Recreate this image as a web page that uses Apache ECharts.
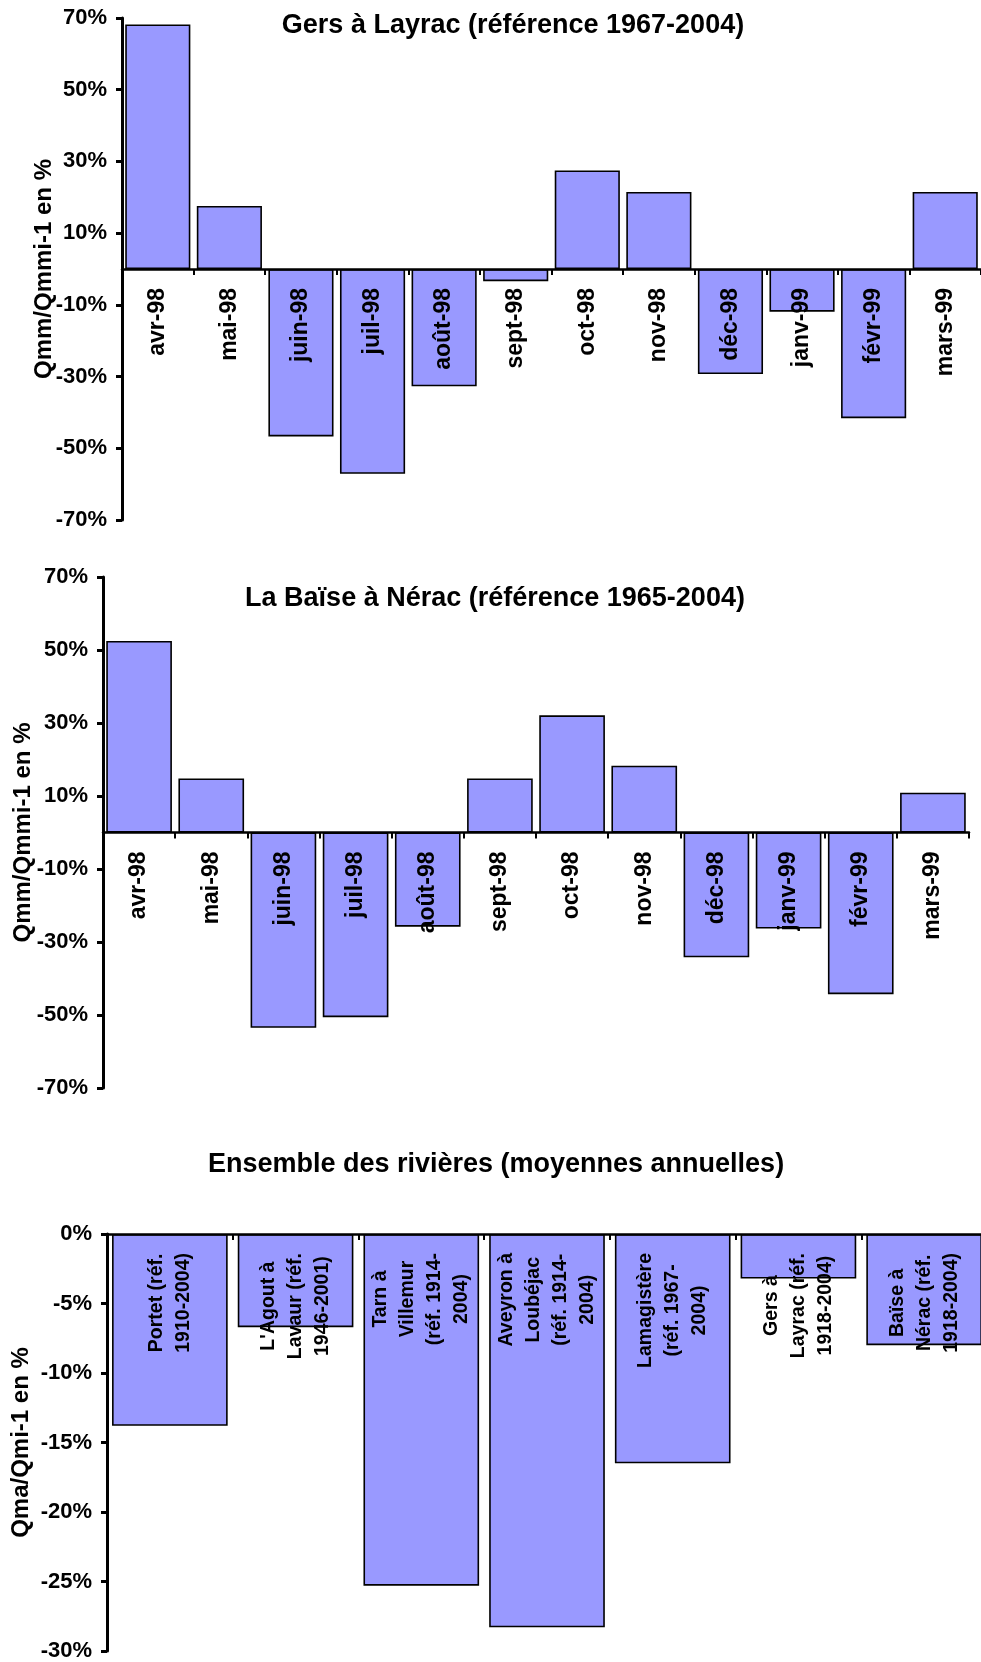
<!DOCTYPE html>
<html>
<head>
<meta charset="utf-8">
<script src="https://cdn.jsdelivr.net/npm/echarts@6/dist/echarts.min.js"></script>
<style>
html,body{margin:0;padding:0;background:#fff;}
#c{width:981px;height:1662px;}
</style>
</head>
<body>
<div id="c"></div>
<script>
// ---- data ----
const months = ['avr-98','mai-98','juin-98','juil-98','août-98','sept-98','oct-98','nov-98','déc-98','janv-99','févr-99','mars-99'];
const gersValues = [68.2, 17.6, -46.7, -57.1, -32.7, -3.4, 27.5, 21.5, -29.3, -11.9, -41.6, 21.5];
const baiseValues = [52.5, 14.8, -53.5, -50.6, -25.8, 14.8, 32.1, 18.3, -34.2, -26.3, -44.3, 10.9];
const rivers = [
  'Portet (réf.\n1910-2004)',
  "L'Agout à\nLavaur (réf.\n1946-2001)",
  'Tarn à\nVillemur\n(réf. 1914-\n2004)',
  'Aveyron à\nLoubéjac\n(réf. 1914-\n2004)',
  'Lamagistère\n(réf. 1967-\n2004)',
  'Gers à\nLayrac (réf.\n1918-2004)',
  'Baïse à\nNérac (réf.\n1918-2004)'
];
const riverValues = [-13.8, -6.7, -25.3, -28.3, -16.5, -3.2, -8.0];
const titles = [
  'Gers à Layrac (référence 1967-2004)',
  'La Baïse à Nérac (référence 1965-2004)',
  'Ensemble des rivières (moyennes annuelles)'
];
const yNames = ['Qmm/Qmmi-1 en %', 'Qmm/Qmmi-1 en %', 'Qma/Qmi-1 en %'];

// ---- styling ----
const FONT = "'Liberation Sans', Arial, sans-serif";
const BAR = '#9999FF';
const grids = [
  {left: 122, top: 18, right: 0, height: 502, containLabel: false, outerBoundsMode: 'none'},
  {left: 103, top: 577, right: 12, height: 511, containLabel: false, outerBoundsMode: 'none'},
  {left: 107, top: 1234, right: -6, height: 417, containLabel: false, outerBoundsMode: 'none'}
];
const ranges = [[-70, 70, 20], [-70, 70, 20], [-30, 0, 5]];

function yAxis(gi, gap) {
  const r = ranges[gi];
  return {
    type: 'value', gridIndex: gi, min: r[0], max: r[1], interval: r[2],
    name: yNames[gi], nameLocation: 'middle', nameGap: gap, nameRotate: 90,
    nameMoveOverlap: false,
    nameTextStyle: {fontFamily: FONT, fontWeight: 'bold', fontSize: 24, color: '#000'},
    axisLine: {show: true, lineStyle: {color: '#000', width: 3}},
    axisTick: {show: true, length: 6, lineStyle: {color: '#000', width: 3}},
    axisLabel: {show: true, margin: 15, showMinLabel: true, showMaxLabel: true,
      fontFamily: FONT, fontWeight: 'bold', fontSize: 22, color: '#000',
      formatter: v => Math.round(v) + '%'},
    splitLine: {show: false}
  };
}
function xAxis(gi, data, labelExtra) {
  const r = ranges[gi];
  // place the category axis on the zero line of the value axis
  const off = -grids[gi].height * (0 - r[0]) / (r[1] - r[0]);
  return {
    type: 'category', gridIndex: gi, data: data, z: 5, position: 'bottom', offset: off,
    axisLine: {show: true, onZero: false, lineStyle: {color: '#000', width: 2.5}},
    axisTick: {show: true, length: 6, interval: 0, lineStyle: {color: '#000', width: 2}},
    axisLabel: Object.assign({interval: 0, rotate: 90, margin: 19,
      fontFamily: FONT, fontWeight: 'bold', fontSize: 23, color: '#000'}, labelExtra || {})
  };
}
function bars(gi, data, gap) {
  return {
    type: 'bar', xAxisIndex: gi, yAxisIndex: gi, data: data,
    barCategoryGap: gap,
    itemStyle: {color: BAR, borderColor: '#000', borderWidth: 1.6},
    silent: true, animation: false
  };
}
function title(i, x, y) {
  return {text: titles[i], left: x, top: y, textAlign: 'center', padding: 0,
    textStyle: {fontFamily: FONT, fontWeight: 'bold', fontSize: 27, color: '#000'}};
}
// multi-line river labels: block aligned to the axis, lines centred within the block
const riverLabel = {
  margin: 19, fontSize: 19.5, lineHeight: 27,
  formatter: v => v.split('\n').map(l => '{c|' + l + '}').join('\n'),
  rich: {c: {align: 'center', fontFamily: FONT, fontWeight: 'bold', fontSize: 19.5, lineHeight: 27, color: '#000'}}
};

const chart = echarts.init(document.getElementById('c'), null, {renderer: 'canvas'});
chart.setOption({
  animation: false,
  backgroundColor: '#fff',
  title: [title(0, 513, 12), title(1, 495, 585), title(2, 496, 1151)],
  grid: grids,
  xAxis: [
    xAxis(0, months),
    xAxis(1, months),
    xAxis(2, rivers, riverLabel)
  ],
  yAxis: [
    yAxis(0, 66),
    yAxis(1, 68),
    yAxis(2, 74)
  ],
  series: [
    bars(0, gersValues, '9%'),
    bars(1, baiseValues, '9%'),
    bars(2, riverValues, '8%')
  ]
});
</script>
</body>
</html>
